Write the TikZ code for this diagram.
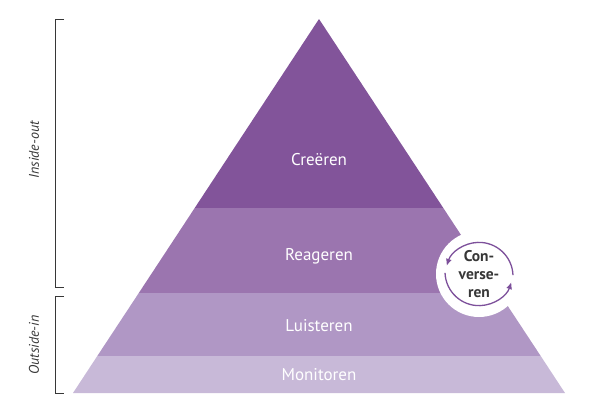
\documentclass[tikz,border=0pt]{standalone}
\usepackage{fontspec}
\setmainfont{PT Sans}
\usetikzlibrary{arrows.meta}
\definecolor{bandA}{RGB}{130,84,154}
\definecolor{bandB}{RGB}{155,117,175}
\definecolor{bandC}{RGB}{176,151,197}
\definecolor{bandD}{RGB}{200,185,216}
\definecolor{ringcol}{RGB}{125,80,155}
\definecolor{txtgray}{RGB}{55,55,55}
\tikzset{
  bandlabel/.style={text=white, font=\fontsize{17}{20}\selectfont, inner sep=0pt},
  sidelabel/.style={rotate=90, text=txtgray, font=\fontsize{14}{16}\selectfont\itshape, inner sep=0pt},
  bracket/.style={draw=txtgray, line width=0.9pt},
  ring/.style={draw=ringcol, line width=1.3pt, -{Latex[length=7pt,width=6pt]}},
}
\begin{document}
\begin{tikzpicture}[x=1pt,y=-1pt]
\useasboundingbox (0,0) rectangle (595,415);
% triangle corners and band boundaries
\coordinate (apex) at (319,19);
\coordinate (bl) at (73,393);
\coordinate (br) at (565,393);
\coordinate (l1) at (194.7,208); \coordinate (r1) at (443.3,208);
\coordinate (l2) at (138.8,293); \coordinate (r2) at (499.2,293);
\coordinate (l3) at (97.3,356);  \coordinate (r3) at (540.7,356);
\fill[bandA] (apex) -- (r1) -- (l1) -- cycle;
\fill[bandB] (l1) -- (r1) -- (r2) -- (l2) -- cycle;
\fill[bandC] (l2) -- (r2) -- (r3) -- (l3) -- cycle;
\fill[bandD] (l3) -- (r3) -- (br) -- (bl) -- cycle;
% labels
\node[bandlabel] (creeren) at (319,160) {Creëren};
\node[bandlabel] (reageren) at (319,256) {Reageren};
\node[bandlabel] (luisteren) at (319,326) {Luisteren};
\node[bandlabel] (monitoren) at (319,375) {Monitoren};
% conversation circle
\node[circle, fill=white, minimum size=86pt, inner sep=0pt] (disc) at (479,274) {};
\node[align=center, text=txtgray, font=\fontsize{15.5}{18}\selectfont\bfseries, inner sep=0pt] (conv) at (disc.center) {Con-\\verse-\\ren};
\draw[ring] (disc.center) ++(2:34) arc[start angle=-2, end angle=-162, radius=34];
\draw[ring] (disc.center) ++(182:34) arc[start angle=-182, end angle=-342, radius=34];
% brackets
\coordinate (ba1) at (64,19); \coordinate (ba2) at (55,19);
\coordinate (ba3) at (55,287); \coordinate (ba4) at (64,287);
\draw[bracket] (ba1) -- (ba2) -- (ba3) -- (ba4);
\coordinate (bb1) at (64,296); \coordinate (bb2) at (55,296);
\coordinate (bb3) at (55,393); \coordinate (bb4) at (64,393);
\draw[bracket] (bb1) -- (bb2) -- (bb3) -- (bb4);
\node[sidelabel] (inside) at (34,150) {Inside-out};
\node[sidelabel] (outside) at (34,345) {Outside-in};
\end{tikzpicture}
\end{document}
